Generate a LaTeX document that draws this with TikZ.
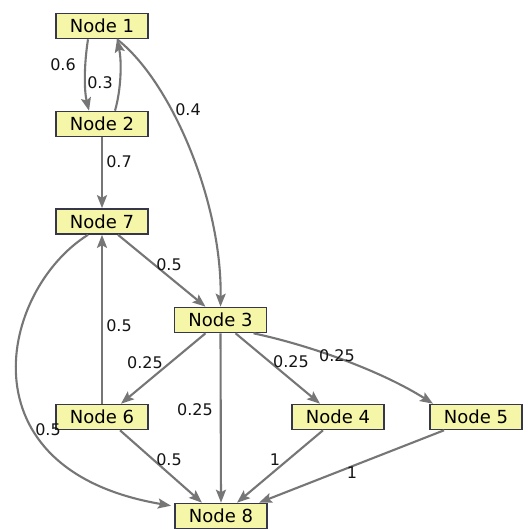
\documentclass[tikz,border=0pt]{standalone}
\usepackage{fontspec}
\setmainfont{DejaVu Sans}
\usetikzlibrary{arrows.meta}
\definecolor{boxfill}{RGB}{246,246,168}
\definecolor{boxline}{RGB}{55,55,75}
\definecolor{edgegray}{RGB}{118,118,118}
\definecolor{labeltext}{RGB}{20,20,20}
\tikzset{
  state/.style={draw=boxline, fill=boxfill, line width=1.6pt,
    minimum width=92pt, minimum height=25pt, inner sep=0pt,
    font=\fontsize{18}{20}\selectfont, text=black},
  edge/.style={draw=edgegray, line width=2.1pt,
    -{Stealth[length=13pt,width=10pt,inset=2.5pt]}},
  prob/.style={font=\fontsize{16}{18}\selectfont, text=labeltext, inner sep=0pt}
}
\begin{document}
\begin{tikzpicture}[x=1pt,y=-1pt]
\useasboundingbox (0,0) rectangle (528,529);
\fill[white] (0,0) rectangle (528,529);

% states
\node[state] (n1) at (102,26) {Node 1};
\node[state] (n2) at (102,124) {Node 2};
\node[state] (n7) at (102,221.5) {Node 7};
\node[state] (n3) at (220.5,320) {Node 3};
\node[state] (n6) at (102,417) {Node 6};
\node[state] (n4) at (338,417) {Node 4};
\node[state] (n5) at (476,417) {Node 5};
\node[state] (n8) at (221,516) {Node 8};

% transitions
\draw[edge] ([xshift=-14pt]n1.south) .. controls (84,65) and (84,90) .. ([xshift=-13pt]n2.north);
\draw[edge] ([xshift=13pt]n2.north) .. controls (121,90) and (122,62) .. ([xshift=15pt]n1.south);
\draw[edge] ([xshift=15pt]n1.south) .. controls (170,80) and (222,200) .. (n3.north);
\draw[edge] (n2.south) -- (n7.north);
\draw[edge] ([xshift=16pt]n7.south) -- ([xshift=-15pt]n3.north);
\draw[edge] (n6.north) -- (n7.south);
\draw[edge] ([xshift=-14pt]n7.south) .. controls (0,290) and (-40,470) .. ([xshift=-50pt,yshift=-3pt]n8.north);
\draw[edge] ([xshift=-15pt]n3.south) -- ([xshift=19pt]n6.north);
\draw[edge] (n3.south) -- (n8.north);
\draw[edge] ([xshift=15pt]n3.south) -- ([xshift=-18pt]n4.north);
\draw[edge] ([xshift=33pt]n3.south) .. controls (313,346) and (383,372) .. ([xshift=-43pt]n5.north);
\draw[edge] ([xshift=18pt]n6.south) -- ([xshift=-19pt]n8.north);
\draw[edge] ([xshift=-15pt]n4.south) -- ([xshift=16pt]n8.north);
\draw[edge] ([xshift=-32pt]n5.south) -- ([xshift=38pt]n8.north);

% probabilities
\node[prob] (p12) at (63,65) {0.6};
\node[prob] (p21) at (100,83) {0.3};
\node[prob] (p13) at (188,110) {0.4};
\node[prob] (p27) at (119,162) {0.7};
\node[prob] (p73) at (169,265) {0.5};
\node[prob] (p67) at (119,326) {0.5};
\node[prob] (p36) at (145,363) {0.25};
\node[prob] (p38) at (195,410) {0.25};
\node[prob] (p34) at (291,362) {0.25};
\node[prob] (p35) at (337,356) {0.25};
\node[prob] (p78) at (48,430) {0.5};
\node[prob] (p68) at (169,460) {0.5};
\node[prob] (p48) at (275,460) {1};
\node[prob] (p58) at (352,473) {1};
\end{tikzpicture}
\end{document}
